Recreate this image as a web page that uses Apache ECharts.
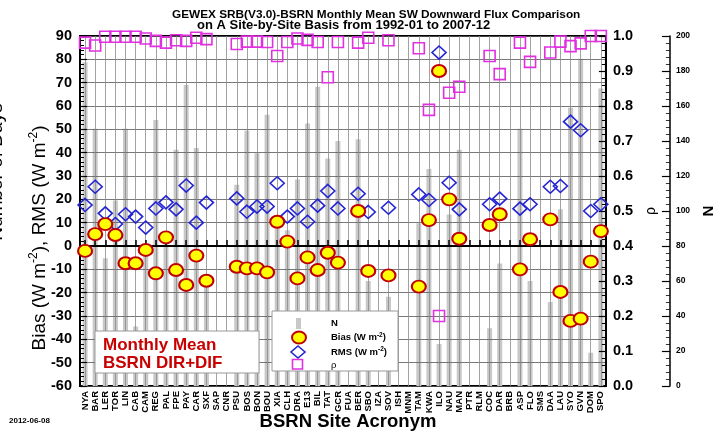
<!DOCTYPE html>
<html><head><meta charset="utf-8">
<script src="https://cdn.jsdelivr.net/npm/echarts@6/dist/echarts.min.js"></script>
<style>html,body{margin:0;padding:0;background:#fff}#c{width:724px;height:431px}</style>
</head><body><div id="c"></div>
<script>
const sites = ['NYA','BAR','LER','TOR','LIN','CAB','CAM','REG','PAL','FPE','PAY','CAR','SXF','SAP','CNR','PSU','BOS','BON','BOU','XIA','CLH','DRA','E13','BIL','TAT','GCR','FUA','BER','SBO','IZA','SOV','ISH','MNM','TAM','KWA','ILO','NAU','MAN','PTR','RLM','COC','DAR','BRB','ASP','FLO','SMS','DAA','LAU','SYO','GVN','DOM','SPO'];
const bias = [-2.1,5.1,9.4,4.7,-7.4,-7.4,-1.7,-11.7,3.7,-10.3,-16.7,-4.1,-14.9,null,null,-8.9,-9.6,-9.6,-11.3,10.4,1.9,-13.9,-4.9,-10.3,-2.9,-7.1,null,15.0,-10.7,null,-12.6,null,null,-17.4,11.1,75.0,20.0,3.1,null,null,9.0,13.6,null,-10.0,2.9,null,11.4,-19.7,-32.1,-31.1,-6.7,6.4];
const rms = [17.6,25.4,14.0,9.4,13.6,12.6,7.9,16.1,18.7,15.7,25.9,10.0,18.6,null,null,20.4,14.7,16.9,16.9,26.9,12.6,16.1,10.4,17.3,23.6,16.1,null,22.4,14.6,null,16.4,null,null,22.1,19.7,82.9,27.1,15.7,null,null,17.9,20.3,null,16.0,17.9,null,25.4,25.7,53.3,49.6,15.0,17.9];
const rho = [0.981,0.973,0.998,0.998,0.998,0.998,0.993,0.986,0.981,0.988,0.986,0.995,0.991,null,null,0.977,0.984,0.984,0.983,0.943,0.983,0.993,0.989,0.983,0.882,0.983,null,0.981,0.995,null,0.988,null,null,0.965,0.789,0.200,0.838,0.855,null,null,0.943,0.891,null,0.981,0.926,null,0.953,0.984,0.971,0.979,1.000,1.000];
const nDays = [185,147,73,106,147,34,78,152,85,135,172,136,57,null,null,115,146,133,155,93,89,118,150,171,130,140,null,141,60,null,51,null,null,93,124,24,98,135,null,null,33,70,null,147,60,null,48,101,159,187,19,170];
const fluxAxis = [-60, 90, 10];
const rhoAxis = [0, 1, 0.1];
const nAxis = [0, 200, 20];
const titleLines = ['GEWEX SRB(V3.0)-BSRN Monthly Mean SW Downward Flux Comparison','on A Site-by-Site Basis from 1992-01 to 2007-12'];

const FF = '"Liberation Sans", Arial, Helvetica, sans-serif';
const dash = a => a.map(v => v === null ? '-' : v);
const supRich = (size, supSize, lh, bold) => ({
  a: {font: (bold ? 'bold ' : '') + size + 'px ' + FF, fill: '#000', lineHeight: lh},
  s: {font: (bold ? 'bold ' : '') + supSize + 'px ' + FF, fill: '#000', lineHeight: Math.round(lh / 2), verticalAlign: 'top'}
});
const chart = echarts.init(document.getElementById('c'));
chart.setOption({
  animation: false,
  backgroundColor: '#fff',
  textStyle: {fontFamily: FF},
  grid: {left: 80, right: 107, top: 36, bottom: 45, show: true, borderColor: '#000', borderWidth: 2, backgroundColor: 'transparent'},
  xAxis: {
    type: 'category', data: sites, boundaryGap: true, z: 3,
    axisLine: {show: true, lineStyle: {color: '#000', width: 2}},
    axisTick: {show: true, inside: true, length: 6, alignWithLabel: true, interval: 0, lineStyle: {color: '#000', width: 1.5}},
    axisLabel: {interval: 0, rotate: 90, fontSize: 9.5, fontWeight: 'bold', color: '#000', margin: 5, fontFamily: FF},
    splitLine: {show: true, alignWithLabel: true, interval: 0, lineStyle: {color: '#8a8a8a', width: 0.8}}
  },
  yAxis: [
    {type: 'value', min: fluxAxis[0], max: fluxAxis[1], interval: fluxAxis[2], position: 'left', z: 3,
     axisLine: {show: true, lineStyle: {color: '#000', width: 2}},
     axisTick: {show: true, inside: true, length: 7, lineStyle: {color: '#000', width: 1.2}},
     minorTick: {show: true, splitNumber: 5, length: 4, lineStyle: {color: '#000', width: 1}},
     axisLabel: {fontSize: 14.5, fontWeight: 'bold', color: '#000', margin: 8, fontFamily: FF},
     splitLine: {show: true, lineStyle: {color: '#555', width: 0.8}}
    },
    {type: 'value', min: rhoAxis[0], max: rhoAxis[1], interval: rhoAxis[2], position: 'right', offset: 0, z: 3,
     axisLine: {show: true, lineStyle: {color: '#000', width: 2}},
     axisTick: {show: true, inside: true, length: 7, lineStyle: {color: '#000', width: 1.2}},
     minorTick: {show: true, splitNumber: 5, length: 4, lineStyle: {color: '#000', width: 1}},
     axisLabel: {fontSize: 14.5, fontWeight: 'bold', color: '#000', margin: 7, fontFamily: FF, formatter: v => v.toFixed(1)},
     splitLine: {show: false},
     name: 'ρ', nameLocation: 'middle', nameGap: 34, nameRotate: 90,
     nameTextStyle: {fontSize: 14, color: '#000', fontFamily: FF}
    },
    {type: 'value', min: nAxis[0], max: nAxis[1], interval: nAxis[2], position: 'right', offset: 64, z: 3,
     axisLine: {show: true, lineStyle: {color: '#000', width: 1.5}},
     axisTick: {show: true, inside: true, length: 8, lineStyle: {color: '#000', width: 1.2}},
     minorTick: {show: true, splitNumber: 5, length: 4, lineStyle: {color: '#000', width: 0.8}},
     axisLabel: {fontSize: 8.5, fontWeight: 'bold', color: '#000', margin: 6, fontFamily: FF},
     splitLine: {show: false},
     name: 'N', nameLocation: 'middle', nameGap: 28, nameRotate: 90,
     nameTextStyle: {fontSize: 15, fontWeight: 'bold', color: '#000', fontFamily: FF}
    }
  ],
  series: [
    {name: 'N', type: 'bar', data: dash(nDays), yAxisIndex: 2, barWidth: 5, z: 1, silent: true,
     itemStyle: {color: '#c8c8c8'}},
    {name: 'Bias', type: 'scatter', data: dash(bias), yAxisIndex: 0, symbol: 'circle', symbolSize: [14, 12], z: 6, silent: true,
     itemStyle: {color: '#ffff00', borderColor: '#c00000', borderWidth: 2, opacity: 1},
     markLine: {silent: true, symbol: 'none', label: {show: false}, lineStyle: {color: '#000', width: 2, type: 'solid'}, data: [{yAxis: 0}], z: 4}},
    {name: 'RMS', type: 'scatter', data: dash(rms), yAxisIndex: 0, symbol: 'diamond', symbolSize: [14, 13], z: 5, silent: true,
     itemStyle: {color: 'rgba(0,0,0,0)', borderColor: '#2424d4', borderWidth: 1.6, opacity: 1}},
    {name: 'rho', type: 'scatter', data: dash(rho), yAxisIndex: 1, symbol: 'rect', symbolSize: 11, z: 5, silent: true,
     itemStyle: {color: 'rgba(0,0,0,0)', borderColor: '#e030e0', borderWidth: 1.6, opacity: 1}}
  ],
  graphic: [
    {type: 'text', x: 172, y: 14.5, z: 100, style: {text: titleLines[0], font: 'bold 11.8px ' + FF, fill: '#000', verticalAlign: 'middle'}},
    {type: 'text', x: 197, y: 25.5, z: 100, style: {text: titleLines[1], font: 'bold 13px ' + FF, fill: '#000', verticalAlign: 'middle'}},
    {type: 'text', x: 348, y: 431, z: 100, style: {text: 'BSRN Site Acronym', font: 'bold 18.5px ' + FF, fill: '#000', align: 'center', verticalAlign: 'bottom'}},
    {type: 'text', x: 9, y: 421, z: 100, style: {text: '2012-06-08', font: 'bold 8px ' + FF, fill: '#000', verticalAlign: 'middle'}},
    {type: 'text', x: -3, y: 172, rotation: Math.PI / 2, z: 100, style: {text: 'Number of Days', font: '19px ' + FF, fill: '#000', align: 'center', verticalAlign: 'middle'}},
    {type: 'text', x: 40, y: 238, rotation: Math.PI / 2, z: 100, style: {text: '{a|Bias (W m}{s|-2}{a|), RMS (W m}{s|-2}{a|)}', align: 'center', verticalAlign: 'middle', rich: supRich(19, 12, 24, false)}},
    {type: 'rect', z: 100, shape: {x: 95, y: 331, width: 164, height: 42}, style: {fill: '#fff', stroke: '#999', lineWidth: 1}},
    {type: 'text', x: 103, y: 345.5, z: 101, style: {text: 'Monthly Mean', font: 'bold 17px ' + FF, fill: '#c80000', verticalAlign: 'middle'}},
    {type: 'text', x: 103, y: 363, z: 101, style: {text: 'BSRN DIR+DIF', font: 'bold 17px ' + FF, fill: '#c80000', verticalAlign: 'middle'}},
    {type: 'rect', z: 100, shape: {x: 272, y: 311, width: 126, height: 60}, style: {fill: '#fff', stroke: '#999', lineWidth: 1}},
    {type: 'rect', z: 101, shape: {x: 296, y: 318, width: 5, height: 11}, style: {fill: '#c8c8c8'}},
    {type: 'ellipse', z: 101, shape: {cx: 299, cy: 337.5, rx: 7, ry: 6}, style: {fill: '#ffff00', stroke: '#c00000', lineWidth: 2}},
    {type: 'polygon', z: 101, shape: {points: [[298, 346], [305, 352], [298, 358], [291, 352]]}, style: {fill: 'none', stroke: '#2424d4', lineWidth: 1.6}},
    {type: 'rect', z: 101, shape: {x: 292.5, y: 359.5, width: 10, height: 9.5}, style: {fill: 'none', stroke: '#e030e0', lineWidth: 1.6}},
    {type: 'text', x: 331, y: 323, z: 101, style: {text: 'N', font: 'bold 9.5px ' + FF, fill: '#000', verticalAlign: 'middle'}},
    {type: 'text', x: 331, y: 337.5, z: 101, style: {text: '{a|Bias (W m}{s|-2}{a|)}', verticalAlign: 'middle', rich: supRich(9.5, 6.5, 12, true)}},
    {type: 'text', x: 331, y: 352, z: 101, style: {text: '{a|RMS (W m}{s|-2}{a|)}', verticalAlign: 'middle', rich: supRich(9.5, 6.5, 12, true)}},
    {type: 'text', x: 331, y: 365, z: 101, style: {text: 'ρ', font: '9.5px ' + FF, fill: '#000', verticalAlign: 'middle'}}
  ]
});
</script></body></html>
